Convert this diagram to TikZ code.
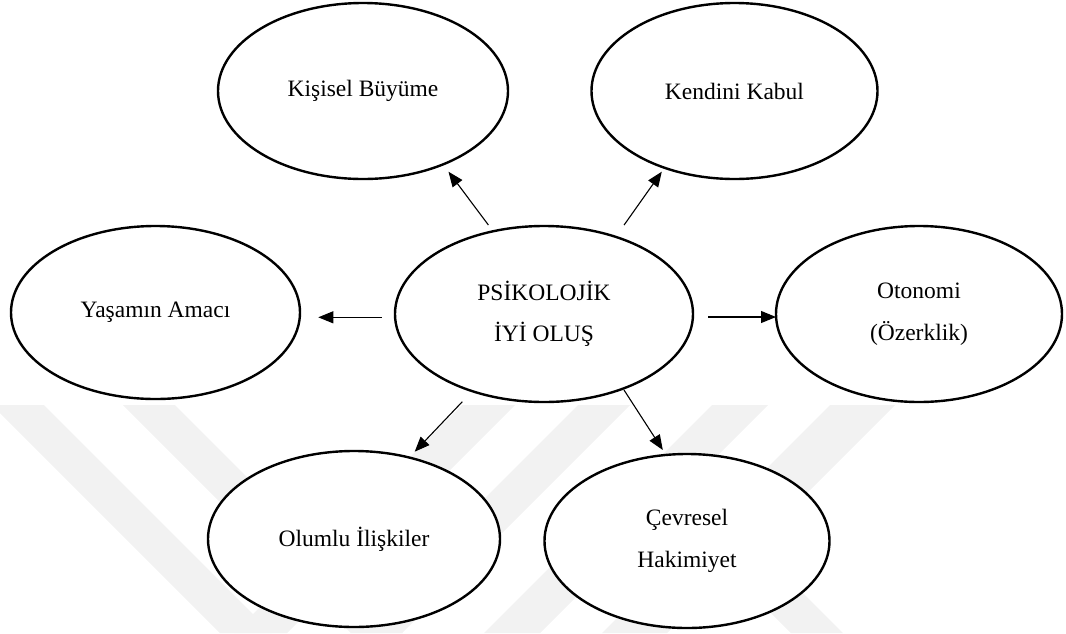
\documentclass[tikz,border=0pt]{standalone}
\usepackage{fontspec}
\setmainfont{Liberation Serif}
\usetikzlibrary{arrows.meta,shapes.geometric}
\definecolor{wmark}{gray}{0.95}
\tikzset{
  bubble/.style={ellipse, draw=black, line width=2.4pt, fill=white,
    inner sep=0pt, align=center, font=\fontsize{23.5}{41.5}\selectfont},
  link/.style={line width=1.1pt, -{Triangle[length=15pt,width=12pt]}},
  band/.style={fill=wmark, draw=none}
}
\begin{document}
\begin{tikzpicture}[x=1pt,y=-1pt]
\useasboundingbox (0,0) rectangle (1066,633);

% faint diagonal background bands in the lower half
\begin{scope}
  \clip (0,405) rectangle (1066,633);
  \fill[band] (-8,405) -- (44,405) -- (272,633) -- (220,633) -- cycle;
  \fill[band] (123,405) -- (175,405) -- (403,633) -- (351,633) -- cycle;
  \fill[band] (462,405) -- (515,405) -- (287,633) -- (234,633) -- cycle;
  \fill[band] (578,405) -- (630,405) -- (402,633) -- (350,633) -- cycle;
  \fill[band] (712,405) -- (768,405) -- (540,633) -- (484,633) -- cycle;
  \fill[band] (830,405) -- (895,405) -- (667,633) -- (602,633) -- cycle;
  \fill[band] (718,560) -- (770,560) -- (843,633) -- (791,633) -- cycle;
\end{scope}

% dimensions
\node[bubble, minimum width=290pt, minimum height=176pt] (grow)    at (363,91)     {Kişisel Büyüme};
\node[bubble, minimum width=286pt, minimum height=176pt] (accept)  at (734.5,91)   {Kendini Kabul};
\node[bubble, minimum width=298pt, minimum height=176pt] (core)    at (544,314)    {PSİKOLOJİK\\İYİ OLUŞ};
\node[bubble, minimum width=289pt, minimum height=173pt] (purpose) at (155.5,312.5) {Yaşamın Amacı};
\node[bubble, minimum width=286pt, minimum height=176pt] (auto)    at (919,314)    {Otonomi\\(Özerklik)};
\node[bubble, minimum width=292pt, minimum height=176pt] (rel)     at (354,539)    {Olumlu İlişkiler};
\node[bubble, minimum width=285pt, minimum height=174pt] (env)     at (687,541)    {Çevresel\\Hakimiyet};

% connectors from the core construct
\draw[link] ([shift={(-55.6,-89)}]core.center)   -- ([shift={(85.5,80.7)}]grow.center);
\draw[link] ([shift={(80.1,-89)}]core.center)    -- ([shift={(-72.7,80.7)}]accept.center);
\draw[link] ([shift={(-162.3,3.3)}]core.center)  -- ([shift={(162.8,4.8)}]purpose.center);
\draw[link] ([shift={(164.3,3)}]core.center)     -- ([shift={(-143,3)}]auto.center);
\draw[link] ([shift={(-81.7,87.7)}]core.center)  -- ([shift={(60.7,-87.3)}]rel.center);
\draw[link] ([shift={(80,76)}]core.center)       -- ([shift={(-24.2,-91)}]env.center);
\end{tikzpicture}
\end{document}
